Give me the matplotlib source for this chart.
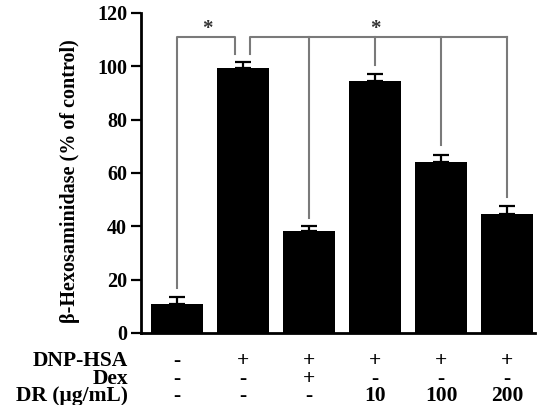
import matplotlib
matplotlib.use('Agg')
import matplotlib.pyplot as plt

# bar data (% of control)
groups = ['ctrl', 'DNP', 'Dex', 'DR10', 'DR100', 'DR200']
values = [10.9, 99.5, 38.2, 94.5, 64.2, 44.6]
errors = [2.5, 2.2, 2.0, 2.6, 2.5, 3.0]

# treatment table under the bars
row_names = ['DNP-HSA', 'Dex', 'DR (\u03bcg/mL)']
dnp_row = ['-', '+', '+', '+', '+', '+']
dex_row = ['-', '-', '+', '-', '-', '-']
dr_row = ['-', '-', '-', '10', '100', '200']

# bracket drop ends (data units)
bracket_ends = [17, 43, 100.5, 70.5, 51]

plt.rcParams['font.family'] = ['Liberation Serif', 'DejaVu Serif']
plt.rcParams['font.weight'] = 'bold'

fig = plt.figure(figsize=(5.39, 4.05), dpi=100)
ax = fig.add_axes([0.2616, 0.178, 0.731, 0.79])

x = list(range(len(groups)))
ax.bar(x, values, width=0.79, color='black', zorder=3)
ax.errorbar(x, values, yerr=[[0] * len(errors), errors], fmt='none',
            ecolor='black', elinewidth=1.6, capsize=5.5, capthick=1.6, zorder=4)

ax.set_xlim(-0.55, 5.42)
ax.set_ylim(0, 120)
ax.set_yticks(range(0, 121, 20))
ax.set_xticks([])
ax.spines['top'].set_visible(False)
ax.spines['right'].set_visible(False)
ax.spines['left'].set_linewidth(2)
ax.spines['bottom'].set_linewidth(2)
ax.tick_params(axis='y', direction='out', length=7, width=1.6, labelsize=14.5, pad=3)
for lab in ax.get_yticklabels():
    lab.set_fontweight('bold')
ax.set_ylabel('\u03b2-Hexosaminidase (% of control)', fontsize=14.5,
              fontweight='bold')
ax.yaxis.set_label_coords(-0.155, 0.475)

# significance brackets
gray = '#7a7a7a'
top_y = 111
ax.plot([0, 0, 0.87, 0.87], [bracket_ends[0], top_y, top_y, 104.6],
        color=gray, lw=1.5, clip_on=False)
ax.plot([1.1, 1.1, 5], [104.6, top_y, top_y], color=gray, lw=1.5, clip_on=False)
for xi, yend in zip(x[2:], bracket_ends[1:]):
    ax.plot([xi, xi], [yend, top_y], color=gray, lw=1.5, clip_on=False)
ax.text(0.45, 114, '*', ha='center', va='center', fontsize=15, color='#333333')
ax.text(3, 114, '*', ha='center', va='center', fontsize=15, color='#333333')

# treatment table, one multi-line text per column
table_y = 1 - 378.5 / 405
fig.text(128 / 539, table_y, '\n'.join(row_names), ha='right', va='center',
         multialignment='right', fontsize=15.5, fontweight='bold', linespacing=0.85)
for xi, col in zip(x, zip(dnp_row, dex_row, dr_row)):
    xd = ax.transData.transform((xi, 0))[0] / fig.dpi / fig.get_figwidth()
    fig.text(xd, table_y, '\n'.join(col), ha='center', va='center',
             multialignment='center', fontsize=15.5, fontweight='bold',
             linespacing=0.85)

fig.savefig('out.png', dpi=100)
